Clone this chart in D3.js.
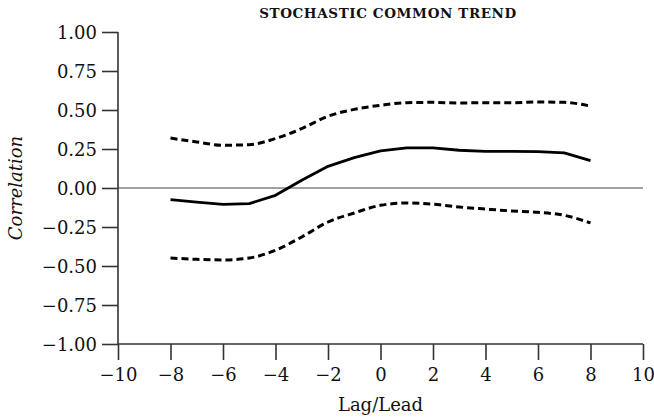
<!DOCTYPE html>
<html>
<head>
<meta charset="utf-8">
<script src="https://cdn.jsdelivr.net/npm/d3@7"></script>
<style>
  html, body { margin: 0; padding: 0; background: #fff; }
  svg { display: block; }
  svg text { font-family: "DejaVu Serif", "Liberation Serif", serif; fill: #111; }
</style>
</head>
<body>
<svg id="chart" width="654" height="419"></svg>
<script>
const title = "STOCHASTIC COMMON TREND";
const xLabel = "Lag/Lead";
const yLabel = "Correlation";

const lags = [-8, -7, -6, -5, -4, -3, -2, -1, 0, 1, 2, 3, 4, 5, 6, 7, 8];
const correlation = [-0.075, -0.09, -0.105, -0.10, -0.047, 0.05, 0.139, 0.195, 0.238, 0.257, 0.257, 0.242, 0.235, 0.235, 0.233, 0.225, 0.176];
const upperBand = [0.32, 0.295, 0.274, 0.278, 0.317, 0.381, 0.46, 0.504, 0.53, 0.547, 0.549, 0.545, 0.547, 0.547, 0.551, 0.549, 0.525];
const lowerBand = [-0.449, -0.457, -0.461, -0.449, -0.399, -0.314, -0.218, -0.16, -0.111, -0.096, -0.104, -0.122, -0.135, -0.147, -0.156, -0.175, -0.224];

const xTicks = [-10, -8, -6, -4, -2, 0, 2, 4, 6, 8, 10];
const yTicks = [-1, -0.75, -0.5, -0.25, 0, 0.25, 0.5, 0.75, 1];

const FONT = '"DejaVu Serif", "Liberation Serif", serif';
const svg = d3.select("#chart");
const margin = { left: 118, right: 11, top: 32, bottom: 75 };
const W = 654, H = 419;

const x = d3.scaleLinear().domain([-10, 10]).range([margin.left, W - margin.right]);
const y = d3.scaleLinear().domain([-1, 1]).range([H - margin.bottom, margin.top]);

const fmtY = v => d3.format(".2f")(v).replace("-", "\u2212");
const fmtX = v => String(v).replace("-", "\u2212");

// Y axis
const yAxis = svg.append("g")
  .attr("transform", `translate(${x(-10)},0)`)
  .call(d3.axisLeft(y).tickValues(yTicks).tickSize(16).tickPadding(5).tickFormat(fmtY));
yAxis.selectAll("text").attr("dy", "0.36em");

// X axis
const xAxis = svg.append("g")
  .attr("transform", `translate(0,${y(-1)})`)
  .call(d3.axisBottom(x).tickValues(xTicks).tickSize(16).tickPadding(8).tickFormat(fmtX));

[yAxis, xAxis].forEach(a => {
  a.attr("font-family", FONT).attr("font-size", 18);
  a.select(".domain").attr("stroke", "#333").attr("stroke-width", 1.6);
  a.selectAll(".tick line").attr("stroke", "#333").attr("stroke-width", 1.6);
  a.selectAll("text").attr("fill", "#111").style("font-family", FONT).style("font-size", "18px");
});
yAxis.select(".domain").attr("d", `M0,${y(1)}V${y(-1)}`);
xAxis.select(".domain").attr("d", `M${x(-10)},0H${x(10)}`);

// zero line
svg.append("line")
  .attr("x1", x(-10)).attr("x2", x(10))
  .attr("y1", y(0)).attr("y2", y(0))
  .attr("stroke", "#444").attr("stroke-width", 1.2);

const rows = lags.map((l, i) => ({ l, c: correlation[i], u: upperBand[i], lo: lowerBand[i] }));

const lineOf = (key, curve) => d3.line().x(d => x(d.l)).y(d => y(d[key])).curve(curve);

svg.append("path").datum(rows)
  .attr("d", lineOf("u", d3.curveMonotoneX))
  .attr("fill", "none").attr("stroke", "#000").attr("stroke-width", 3)
  .attr("stroke-dasharray", "7,4");

svg.append("path").datum(rows)
  .attr("d", lineOf("lo", d3.curveMonotoneX))
  .attr("fill", "none").attr("stroke", "#000").attr("stroke-width", 3)
  .attr("stroke-dasharray", "7,4");

svg.append("path").datum(rows)
  .attr("d", lineOf("c", d3.curveLinear))
  .attr("fill", "none").attr("stroke", "#000").attr("stroke-width", 2.8)
  .attr("stroke-linejoin", "round");

// Title
svg.append("text")
  .attr("x", 388).attr("y", 18)
  .attr("text-anchor", "middle")
  .style("font-family", FONT)
  .style("font-size", "13.5px")
  .style("font-weight", "600")
  .style("letter-spacing", "0.6px")
  .text(title);

// X label
svg.append("text")
  .attr("x", x(0)).attr("y", 411)
  .attr("text-anchor", "middle")
  .style("font-family", FONT)
  .style("font-size", "18px")
  .text(xLabel);

// Y label
svg.append("text")
  .attr("transform", `translate(22,${y(0)}) rotate(-90)`)
  .attr("text-anchor", "middle")
  .style("font-family", FONT)
  .style("font-size", "18px")
  .style("font-style", "italic")
  .text(yLabel);
</script>
</body>
</html>
